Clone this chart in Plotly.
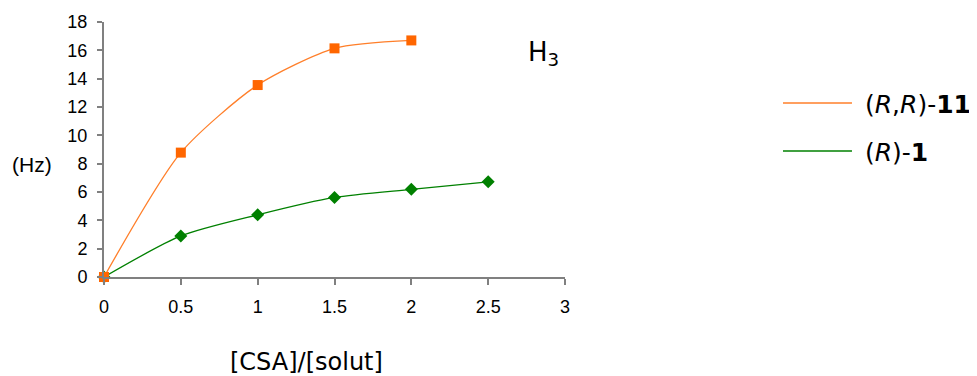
import plotly.graph_objects as go

ratio = [0, 0.5, 1, 1.5, 2, 2.5]
rr11_hz = [0, 8.78, 13.55, 16.14, 16.70]
r1_hz = [0, 2.90, 4.39, 5.62, 6.19, 6.72]
x_ticks = [0, 0.5, 1, 1.5, 2, 2.5, 3]
y_ticks = [0, 2, 4, 6, 8, 10, 12, 14, 16, 18]
names = ["&#160;(<i>R</i>,<i>R</i>)-<b>11</b>", "&#160;(<i>R</i>)-<b>1</b>"]

ORANGE_LINE = "#FF7F2A"
ORANGE_MK = "#FF6600"
GREEN = "#008000"

fig = go.Figure()
fig.add_trace(go.Scatter(
    x=ratio[:len(rr11_hz)], y=rr11_hz, mode="lines", name=names[0], legendgroup="a",
    line=dict(color=ORANGE_LINE, width=1.3, shape="spline", smoothing=0.7),
))
fig.add_trace(go.Scatter(
    x=ratio, y=r1_hz, mode="lines", name=names[1], legendgroup="b",
    line=dict(color=GREEN, width=1.3, shape="spline", smoothing=0.7),
))
fig.add_trace(go.Scatter(
    x=ratio, y=r1_hz, mode="markers", showlegend=False, legendgroup="b",
    marker=dict(symbol="diamond", size=10, color=GREEN), cliponaxis=False,
))
fig.add_trace(go.Scatter(
    x=ratio[:len(rr11_hz)], y=rr11_hz, mode="markers", showlegend=False, legendgroup="a",
    marker=dict(symbol="square", size=10, color=ORANGE_MK), cliponaxis=False,
))

axis_common = dict(
    showgrid=False, zeroline=False, showline=True, linecolor="#808080",
    linewidth=2, ticks="outside", tickcolor="#808080", tickwidth=1.5,
    automargin=False,
    tickfont=dict(family="Liberation Sans, Arial, sans-serif", size=18, color="#000"),
)

fig.update_layout(
    width=977, height=376,
    margin=dict(l=96, r=420, t=14, b=107, autoexpand=False),
    paper_bgcolor="white", plot_bgcolor="white",
    xaxis=dict(range=[0, 3], tickvals=x_ticks, ticktext=[str(v) for v in x_ticks],
               ticklen=6, ticklabelstandoff=6, **axis_common),
    yaxis=dict(range=[0, 18], tickvals=y_ticks, ticklen=5,
               ticklabelstandoff=6, **axis_common),
    showlegend=True,
    legend=dict(
        xref="container", yref="container",
        x=0.7881, xanchor="left", y=0.8078, yanchor="top",
        font=dict(family="DejaVu Sans, Verdana, sans-serif", size=25, color="#000"),
        itemwidth=69, traceorder="grouped", tracegroupgap=12.5,
        itemclick=False, bgcolor="rgba(0,0,0,0)",
    ),
    annotations=[
        dict(text="H<sub>3</sub>", xref="paper", yref="paper", x=0.916, y=0.875,
             xanchor="left", yanchor="middle", showarrow=False,
             font=dict(family="DejaVu Sans, Verdana, sans-serif", size=26, color="#000")),
        dict(text="(Hz)", xref="paper", yref="paper", x=-0.203, y=0.44,
             xanchor="left", yanchor="middle", showarrow=False,
             font=dict(family="Liberation Sans, Arial, sans-serif", size=21, color="#000")),
        dict(text="[CSA]/[solut]", xref="paper", yref="paper", x=0.44, y=-0.333,
             xanchor="center", yanchor="middle", showarrow=False,
             font=dict(family="DejaVu Sans, Verdana, sans-serif", size=24, color="#000")),
    ],
)

fig.write_html("out.html")
